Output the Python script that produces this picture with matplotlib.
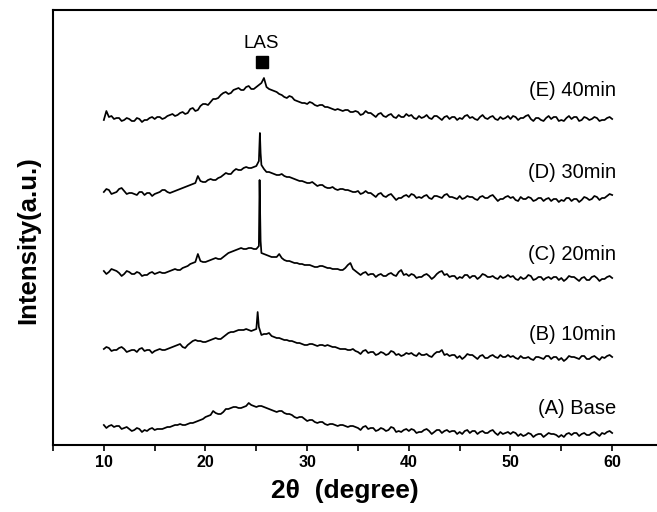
"""XRD patterns of the base glass and heat-treated samples (stacked, offset)."""

import matplotlib
matplotlib.use("Agg")
import matplotlib.pyplot as plt
import numpy as np
from matplotlib.ticker import MultipleLocator, NullFormatter

plt.rcParams["font.family"] = ["Liberation Sans", "DejaVu Sans"]

# ── Data (intensity already offset per trace, arbitrary units) ────────────────
# Each trace: readings every 0.5 deg from 10 to 60 (grid), readings halfway
# between them (mid, 10.25 ... 59.75) and a few extra points on sharp peaks.
THETA_START, THETA_STOP, THETA_STEP = 10.0, 60.0, 0.5

E_GRID = [
    325, 328, 326, 327, 325, 326, 324, 326, 325, 327,
    326, 328, 327, 330, 329, 332, 331, 336, 334, 339,
    341, 343, 346, 350, 353, 352, 356, 355, 358, 356,
    358, 362, 358, 355, 353, 350, 347, 348, 344, 342,
    341, 342, 339, 340, 338, 336, 336, 334, 335, 333,
    333, 331, 332, 330, 331, 329, 330, 328, 330, 328,
    329, 327, 329, 328, 327, 329, 327, 328, 326, 328,
    327, 329, 327, 326, 328, 327, 328, 326, 328, 327,
    326, 328, 327, 329, 326, 327, 325, 327, 326, 328,
    325, 327, 326, 328, 325, 327, 326, 327, 325, 327,
    326,
]
E_MID = [
    334, 329, 327, 324, 327, 324, 327, 323, 325, 328,
    328, 326, 329, 331, 330, 333, 332, 337, 335, 341,
    340, 346, 347, 352, 351, 355, 357, 355, 359, 356,
    360, 367, 356, 354, 351, 348, 349, 345, 343, 342,
    343, 340, 340, 338, 337, 335, 335, 335, 333, 334,
    330, 334, 332, 328, 332, 328, 331, 327, 328, 331,
    330, 326, 327, 330, 326, 329, 325, 329, 328, 325,
    326, 330, 328, 325, 330, 326, 329, 325, 326, 329,
    329, 325, 327, 330, 324, 327, 324, 329, 328, 324,
    324, 329, 328, 324, 328, 325, 328, 324, 325, 328,
]
E_PEAK_X, E_PEAK_Y = [], []

D_GRID = [
    253, 255, 252, 256, 254, 252, 251, 253, 250, 252,
    251, 253, 255, 252, 254, 256, 258, 260, 262, 264,
    263, 266, 265, 268, 272, 271, 276, 275, 278, 277,
    279, 280, 273, 272, 270, 271, 268, 267, 265, 264,
    262, 263, 259, 260, 257, 258, 255, 256, 255, 253,
    254, 252, 252, 250, 251, 249, 250, 248, 247, 249,
    248, 250, 248, 249, 247, 249, 248, 250, 248, 247,
    249, 247, 248, 246, 248, 247, 249, 247, 246, 248,
    247, 245, 248, 246, 247, 245, 247, 246, 244, 246,
    245, 247, 244, 246, 245, 247, 246, 248, 247, 249,
    250,
]
D_MID = [
    256, 251, 253, 257, 251, 252, 250, 253, 252, 249,
    252, 255, 253, 253, 255, 257, 259, 261, 269, 263,
    265, 265, 267, 270, 271, 274, 275, 277, 277, 278,
    284, 276, 273, 271, 270, 269, 268, 266, 264, 263,
    262, 261, 260, 258, 257, 256, 256, 255, 254, 253,
    251, 254, 252, 248, 252, 248, 251, 245, 247, 250,
    251, 247, 247, 250, 246, 249, 247, 251, 248, 246,
    246, 249, 248, 245, 249, 247, 250, 244, 246, 249,
    248, 244, 246, 248, 244, 247, 244, 247, 246, 243,
    244, 247, 246, 243, 248, 245, 249, 245, 247, 251,
]
D_PEAK_X = [25.35, 25.42]
D_PEAK_Y = [312, 292]

C_GRID = [
    174, 173, 175, 172, 171, 173, 171, 172, 170, 172,
    171, 173, 172, 174, 176, 175, 178, 181, 183, 184,
    183, 185, 187, 186, 190, 193, 195, 197, 196, 197,
    196, 192, 190, 188, 188, 187, 184, 183, 182, 181,
    180, 179, 178, 179, 177, 176, 176, 175, 180, 176,
    172, 172, 170, 171, 170, 169, 171, 170, 173, 170,
    169, 170, 168, 170, 169, 168, 173, 170, 168, 169,
    168, 170, 167, 169, 168, 170, 168, 167, 169, 168,
    168, 166, 168, 167, 169, 166, 168, 167, 166, 168,
    167, 166, 168, 166, 167, 165, 168, 167, 166, 168,
    167,
]
C_MID = [
    171, 176, 174, 169, 174, 171, 173, 169, 170, 173,
    172, 172, 173, 175, 175, 177, 179, 182, 191, 183,
    184, 186, 186, 188, 192, 194, 196, 196, 197, 196,
    199, 191, 189, 188, 191, 185, 184, 182, 181, 180,
    180, 178, 179, 178, 177, 176, 175, 177, 182, 174,
    170, 173, 171, 168, 171, 169, 172, 169, 175, 171,
    171, 167, 168, 171, 166, 171, 174, 171, 169, 166,
    167, 170, 169, 166, 171, 168, 169, 166, 167, 170,
    169, 165, 166, 170, 165, 168, 165, 168, 168, 165,
    164, 169, 168, 164, 168, 165, 169, 164, 166, 169,
]
C_PEAK_X = [25.32, 25.42]
C_PEAK_Y = [265, 204]

B_GRID = [
    96, 97, 95, 97, 96, 94, 95, 96, 94, 95,
    94, 96, 95, 97, 99, 101, 97, 102, 105, 104,
    103, 105, 107, 106, 110, 113, 114, 115, 116, 114,
    116, 110, 111, 109, 107, 106, 105, 104, 102, 101,
    100, 101, 99, 100, 100, 98, 97, 96, 95, 96,
    93, 94, 92, 93, 91, 92, 91, 93, 91, 90,
    91, 90, 92, 90, 89, 91, 93, 90, 89, 90,
    89, 88, 90, 88, 89, 87, 89, 88, 90, 88,
    88, 87, 89, 87, 86, 88, 87, 89, 86, 88,
    87, 86, 88, 87, 89, 86, 88, 87, 88, 89,
    88,
]
B_MID = [
    98, 94, 95, 98, 93, 95, 93, 97, 95, 92,
    95, 95, 96, 98, 100, 98, 100, 104, 104, 103,
    104, 106, 106, 108, 112, 113, 115, 115, 115, 115,
    118, 111, 112, 108, 107, 105, 104, 103, 102, 100,
    101, 100, 100, 99, 99, 98, 96, 96, 95, 94,
    91, 95, 93, 90, 93, 90, 94, 90, 89, 92,
    92, 89, 90, 91, 88, 93, 95, 91, 90, 87,
    86, 91, 90, 86, 90, 87, 90, 87, 88, 90,
    89, 86, 87, 88, 85, 88, 86, 89, 88, 85,
    84, 89, 88, 86, 89, 86, 89, 85, 87, 90,
]
B_PEAK_X = [25.13]
B_PEAK_Y = [133]

A_GRID = [
    20, 19, 18, 19, 17, 16, 15, 16, 15, 16,
    15, 16, 17, 18, 20, 21, 20, 22, 23, 25,
    28, 30, 32, 31, 36, 37, 38, 37, 39, 40,
    38, 39, 37, 35, 33, 34, 31, 30, 27, 28,
    24, 25, 22, 23, 20, 21, 19, 20, 18, 19,
    17, 18, 16, 17, 15, 16, 15, 17, 14, 15,
    14, 15, 13, 15, 14, 13, 15, 14, 13, 14,
    13, 14, 12, 14, 13, 12, 14, 12, 13, 12,
    11, 12, 11, 10, 11, 10, 11, 10, 11, 10,
    10, 11, 10, 12, 11, 10, 12, 11, 12, 13,
    12,
]
A_MID = [
    17, 20, 19, 16, 18, 14, 17, 13, 14, 17,
    16, 16, 18, 19, 20, 20, 21, 22, 24, 26,
    29, 34, 31, 33, 36, 38, 37, 38, 42, 39,
    39, 38, 36, 34, 34, 32, 31, 28, 28, 26,
    25, 23, 23, 21, 21, 20, 20, 19, 19, 18,
    15, 19, 17, 14, 17, 14, 18, 13, 13, 16,
    16, 12, 13, 16, 11, 15, 12, 15, 14, 11,
    11, 15, 14, 11, 14, 12, 15, 10, 11, 13,
    13, 9, 9, 12, 8, 11, 8, 12, 11, 8,
    8, 12, 12, 9, 12, 10, 13, 9, 11, 14,
]
A_PEAK_X, A_PEAK_Y = [], []

LABELS = ["(E) 40min", "(D) 30min", "(C) 20min", "(B) 10min", "(A) Base"]
LABEL_Y = [355, 273, 190, 110, 37]
LAS_THETA, LAS_TEXT_Y, LAS_MARK_Y = 25.5, 402, 383


def merge(grid, mid, px, py):
    theta = np.arange(THETA_START, THETA_STOP + THETA_STEP / 2, THETA_STEP)
    theta_mid = theta[:-1] + THETA_STEP / 2
    assert len(theta) == len(grid) and len(theta_mid) == len(mid)
    x = np.concatenate([theta, theta_mid, px])
    y = np.concatenate([grid, mid, py]).astype(float)
    order = np.argsort(x, kind="stable")
    return x[order], y[order]


TRACES = [
    (E_GRID, E_MID, E_PEAK_X, E_PEAK_Y),
    (D_GRID, D_MID, D_PEAK_X, D_PEAK_Y),
    (C_GRID, C_MID, C_PEAK_X, C_PEAK_Y),
    (B_GRID, B_MID, B_PEAK_X, B_PEAK_Y),
    (A_GRID, A_MID, A_PEAK_X, A_PEAK_Y),
]

# ── Plot ──────────────────────────────────────────────────────────────────────
fig = plt.figure(figsize=(6.57, 5.12), dpi=100)
ax = fig.add_axes([53 / 657, 67 / 512, 610 / 657, 435 / 512])

for grid, mid, px, py in TRACES:
    x, y = merge(grid, mid, px, py)
    ax.plot(x, y, color="black", lw=1.25)

for lab, ly in zip(LABELS, LABEL_Y):
    ax.text(60.4, ly, lab, ha="right", va="center", fontsize=14.5)

ax.text(LAS_THETA, LAS_TEXT_Y, "LAS", ha="center", va="center", fontsize=13.5)
ax.plot([LAS_THETA + 0.1], [LAS_MARK_Y], marker="s", ms=8.5, color="black")

ax.set_xlim(5, 65)
ax.set_ylim(0, 435)
ax.xaxis.set_major_locator(MultipleLocator(10))
ax.xaxis.set_minor_locator(MultipleLocator(5))
ax.xaxis.set_minor_formatter(NullFormatter())
ax.tick_params(axis="x", which="both", direction="out", length=4, width=1.2,
               labelsize=11.5, pad=3)
for t in ax.get_xticklabels():
    t.set_fontweight("bold")
ax.set_yticks([])
for sp in ax.spines.values():
    sp.set_linewidth(1.5)

ax.set_xlabel("2θ  (degree)", fontsize=19, fontweight="bold")
ax.xaxis.set_label_coords(0.479, -0.078)
ax.set_ylabel("Intensity(a.u.)", fontsize=18.5, fontweight="bold")
ax.yaxis.set_label_coords(-0.021, 0.471)

fig.savefig("out.png", dpi=100)
